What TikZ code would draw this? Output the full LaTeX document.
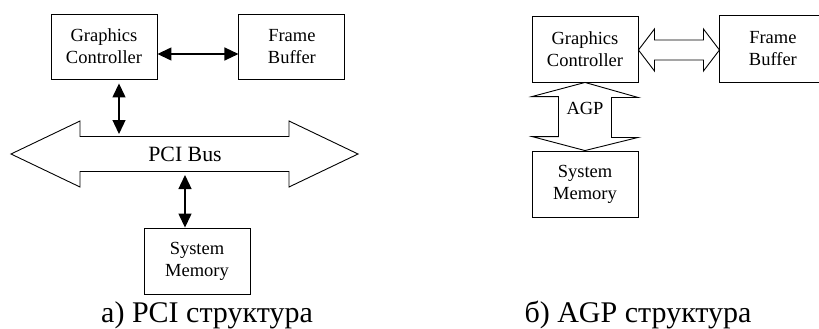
\documentclass[tikz,border=0pt]{standalone}
\usepackage{fontspec}
\setmainfont{Liberation Serif}[Ligatures=NoCommon]
\usetikzlibrary{arrows.meta, positioning, calc}

\begin{document}
\begin{tikzpicture}[
		x=1pt, y=-1pt,
		% Block styles
		unit/.style={draw=black, line width=0.9pt, minimum width=106pt, minimum height=65pt, inner sep=0pt, align=center, font=\fontsize{18.5}{22}\selectfont},
		% Connector styles
		link/.style={arrows={Triangle[length=14pt, width=13pt]-Triangle[length=14pt, width=13pt]}, line width=1.3pt},
		hollow/.style={draw=black, line width=0.9pt, line join=miter},
		% Text styles
		buslabel/.style={font=\fontsize{21.8}{24}\selectfont},
		agplabel/.style={font=\fontsize{18.5}{22}\selectfont},
		captext/.style={font=\fontsize{30}{32}\selectfont}
		]
		\useasboundingbox (0,0) rectangle (819,329);
		\coordinate (edge) at (819,0);
		
		% --- LEFT: PCI STRUCTURE ---
		\node[unit] (gc_pci) at (104,46.5) {Graphics\\Controller};
		\node[unit, right=81pt of gc_pci] (fb_pci) {Frame\\Buffer};
		\node[unit, minimum height=66pt] (sm_pci) at (197,261) {System\\Memory};
		\node[buslabel] (bus) at (185,154) {PCI Bus};
		
		% Bus outline
		\draw[hollow] ($(bus)+(-174,0)$) -- ++(69,-33) -- ++(0,15.5) -- ++(209,0) -- ++(0,-15.5)
		-- ++(69,33) -- ++(-69,33) -- ++(0,-15.5) -- ++(-209,0) -- ++(0,15.5) -- cycle;
		
		\draw[link] ([yshift=-7.5pt]gc_pci.east) -- ([yshift=-7.5pt]fb_pci.west);
		\draw[link] ([xshift=15pt, yshift=-4pt]gc_pci.south) -- ($(bus)+(-66,-20)$);
		\draw[link] ($(bus)+(0,21)$) -- (bus |- sm_pci.north);
		
		\node[captext] (cap_pci) at (207,315) {а) PCI структура};
		
		% --- RIGHT: AGP STRUCTURE ---
		\node[unit, minimum height=66pt] (gc_agp) at (585,49) {Graphics\\Controller};
		\node[unit, draw=none, minimum height=66pt, right=81pt of gc_agp] (fb_agp) {Frame\\Buffer};
		% frame buffer runs off the right edge
		\draw[line width=0.9pt] (fb_agp.north west -| edge) -- (fb_agp.north west) -- (fb_agp.south west) -- (fb_agp.south west -| edge);
		\node[unit, minimum height=66pt] (sm_agp) at (585,184) {System\\Memory};
		
		% Hollow link to the frame buffer
		\draw[hollow] ($(gc_agp.east)+(0,1)$) -- ++(16,-21) -- ++(0,11) -- ++(49,0) -- ++(0,-11)
		-- ++(16,21) -- ++(-16,21) -- ++(0,-11) -- ++(-49,0) -- ++(0,11) -- cycle;
		
		% AGP port
		\draw[hollow] (gc_agp.south) -- ++(53,15) -- ++(-26.5,0) -- ++(0,40) -- ++(26.5,0)
		-- (sm_agp.north) -- ++(-53,-14) -- ++(26.5,0) -- ++(0,-40) -- ++(-26.5,0) -- cycle;
		\node[agplabel] (agp) at (585,108) {AGP};
		
		\node[captext] (cap_agp) at (638,315) {б) AGP структура};
		
	\end{tikzpicture}
\end{document}
